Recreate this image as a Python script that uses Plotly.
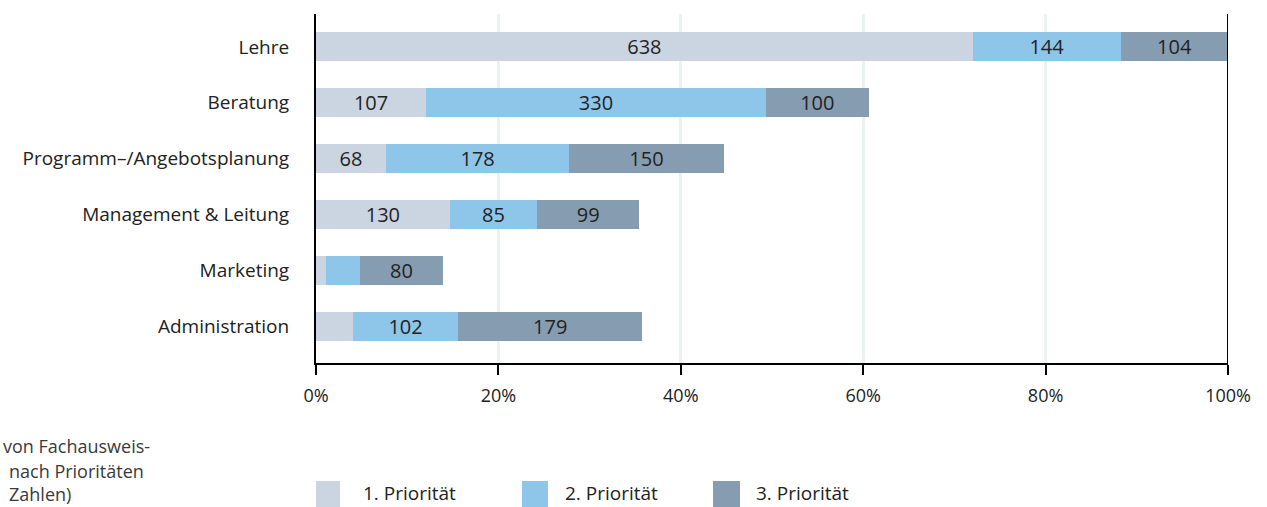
import plotly.graph_objects as go

categories = ["Lehre", "Beratung", "Programm–/Angebotsplanung", "Management & Leitung", "Marketing", "Administration"]
prio1 = [638, 107, 68, 130, 10, 36]
prio2 = [144, 330, 178, 85, 33, 102]
prio3 = [104, 100, 150, 99, 80, 179]
series_names = ["1. Priorität", "2. Priorität", "3. Priorität"]
x_ticks = [0, 20, 40, 60, 80, 100]
x_ticklabels = ["0%", "20%", "40%", "60%", "80%", "100%"]
TOTAL = 886
caption_lines = ["von Fachausweis-", "nach Prioritäten", "Zahlen)"]

colors = ["#CBD5E1", "#8EC6EA", "#869DB1"]
FONT = "'Open Sans', sans-serif"
TXT = "#222222"

W, H = 1267, 507
L, R, T, B = 316, 39, 14, 144
PW, PH = W - L - R, H - T - B

def px(xp):
    return (xp - L) / PW

def py(yp):
    return (H - B - yp) / PH

fig = go.Figure()
for name, vals, col in zip(series_names, [prio1, prio2, prio3], colors):
    pct = [v / TOTAL * 100 for v in vals]
    txt = [str(v) if v >= 50 else "" for v in vals]
    fig.add_trace(go.Bar(
        y=categories, x=pct, orientation="h", name=name,
        marker=dict(color=col, line=dict(width=0)),
        text=txt, textposition="inside", insidetextanchor="middle",
        textangle=0,
        textfont=dict(family=FONT, size=20, color=TXT),
        width=0.52, showlegend=False,
        hovertemplate="%{y}: %{text}<extra>" + name + "</extra>",
    ))

fig.update_layout(
    width=W, height=H, barmode="stack",
    margin=dict(l=L, r=R, t=T, b=B, pad=0),
    paper_bgcolor="white", plot_bgcolor="white",
    font=dict(family=FONT, size=18, color=TXT),
    uniformtext=dict(minsize=20, mode="show"),
    xaxis=dict(
        range=[0, 100], tickvals=x_ticks, ticktext=x_ticklabels,
        showgrid=True, gridcolor="#EAF2F2", gridwidth=3,
        zeroline=False, showline=True, linecolor="black", linewidth=2,
        ticks="outside", ticklen=10, tickwidth=2, tickcolor="black",
        tickfont=dict(family=FONT, size=18, color=TXT),
        ticklabelstandoff=5, fixedrange=True,
    ),
    yaxis=dict(
        categoryorder="array", categoryarray=categories[::-1],
        range=[-0.66, 5.59],
        showgrid=False, zeroline=False, showline=True,
        linecolor="black", linewidth=2, ticks="",
        tickfont=dict(family=FONT, size=19, color=TXT),
        ticklabelstandoff=21, fixedrange=True,
    ),
)

# right boundary line at 100%
fig.add_shape(type="line", xref="x", yref="paper", x0=100, x1=100, y0=0, y1=1,
              line=dict(color="black", width=2))

# custom legend with large swatches
legend_pos = [(316, 340, 361), (522, 548, 563), (713, 740, 754)]
for (sx0, sx1, tx), name, col in zip(legend_pos, series_names, colors):
    fig.add_shape(type="rect", xref="paper", yref="paper",
                  x0=px(sx0), x1=px(sx1), y0=py(507), y1=py(481),
                  fillcolor=col, line=dict(width=0))
    fig.add_annotation(xref="paper", yref="paper", x=px(tx), y=py(493),
                       xanchor="left", yanchor="middle", text=name, showarrow=False,
                       font=dict(family=FONT, size=19, color=TXT))

# clipped caption at bottom left
for line, (cx, cy) in zip(caption_lines, [(1, 446), (7, 471), (7, 494)]):
    fig.add_annotation(xref="paper", yref="paper", x=px(cx), y=py(cy),
                       xanchor="left", yanchor="middle", text=line, showarrow=False,
                       font=dict(family=FONT, size=18, color="#3a3a3a"))

fig.write_html("out.html")
